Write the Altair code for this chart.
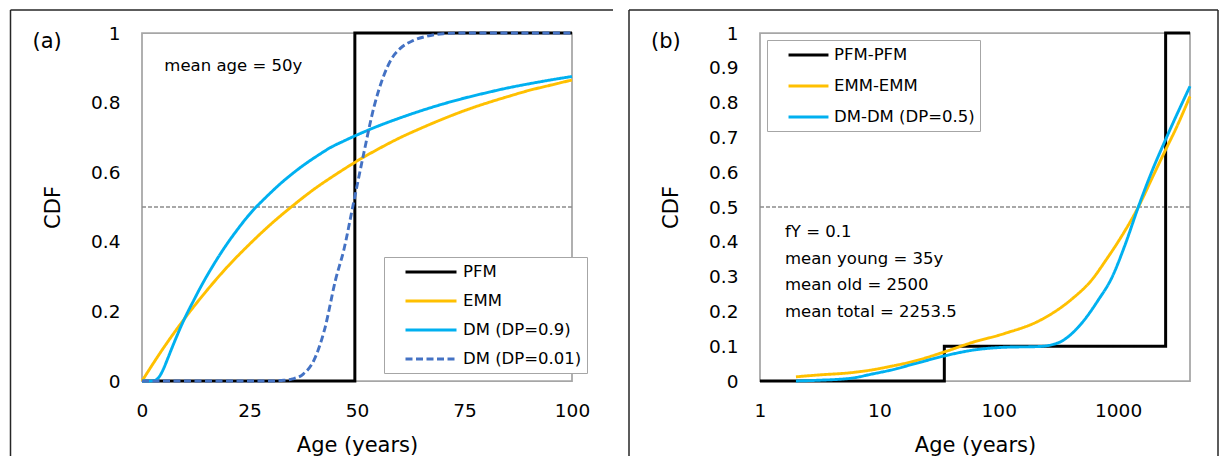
import altair as alt
import pandas as pd

FONT = "DejaVu Sans"

# ---------------- Panel (a) data ----------------
A_SERIES = ["PFM", "EMM", "DM (DP=0.9)", "DM (DP=0.01)"]
A_COLORS = ["#000000", "#FFC000", "#00B0F0", "#4472C4"]
A_DASH = [[1, 0], [1, 0], [1, 0], [7, 3.5]]

PFM_A_AGE = [0, 49.5, 49.5, 100]
PFM_A_CDF = [0, 0, 1, 1]

EMM_A_AGE = [0, 5, 10, 15, 20, 25, 30, 35, 40, 45, 50, 55, 60, 65, 70, 75, 80, 85, 90, 95, 100]
EMM_A_CDF = [0, 0.095, 0.181, 0.259, 0.33, 0.393, 0.451, 0.503, 0.551, 0.593, 0.632, 0.667,
             0.699, 0.727, 0.753, 0.777, 0.798, 0.817, 0.835, 0.85, 0.865]

DM09_A_AGE = [0, 2, 3, 4, 5, 6, 7, 8, 9, 10, 11, 12, 13, 14, 15, 16, 18, 20, 22, 24, 26,
              28, 30, 32, 35, 38, 41, 44, 47, 50, 55, 60, 65, 70, 75, 80, 85, 90, 95, 100]
DM09_A_CDF = [0, 0, 0.002, 0.012, 0.035, 0.065, 0.096, 0.126, 0.155, 0.182, 0.207, 0.231,
              0.255, 0.278, 0.3, 0.321, 0.361, 0.398, 0.432, 0.464, 0.493, 0.518, 0.542,
              0.565, 0.596, 0.624, 0.649, 0.672, 0.69, 0.707, 0.733, 0.756, 0.777, 0.796,
              0.813, 0.828, 0.842, 0.854, 0.865, 0.875]

DM001_A_AGE = [0, 30, 33, 35, 37.5, 40, 42.5, 45, 47, 49, 51.5, 54, 56, 58, 60, 63, 66,
               70, 75, 100]
DM001_A_CDF = [0, 0, 0.002, 0.006, 0.02, 0.06, 0.15, 0.29, 0.38, 0.5, 0.65, 0.79, 0.87,
               0.925, 0.955, 0.978, 0.99, 0.998, 1, 1]

A_NOTE_X = [5.2]
A_NOTE_Y = [0.905]
A_NOTE_T = ["mean age = 50y"]
A_YTICKS = [0, 0.2, 0.4, 0.6, 0.8, 1]
A_XTICKS = [0, 25, 50, 75, 100]

# ---------------- Panel (b) data ----------------
B_SERIES = ["PFM-PFM", "EMM-EMM", "DM-DM (DP=0.5)"]
B_COLORS = ["#000000", "#FFC000", "#00B0F0"]
B_DASH = [[1, 0], [1, 0], [1, 0]]

PFM_B_AGE = [1, 35, 35, 2500, 2500, 4000]
PFM_B_CDF = [0, 0, 0.1, 0.1, 1, 1]

EMM_B_AGE = [2, 3, 5.8, 8.7, 12, 20, 36, 59, 113, 215, 408, 600, 800, 1000, 1476, 2000,
             2545, 3000, 4000]
EMM_B_CDF = [0.012, 0.017, 0.024, 0.032, 0.041, 0.058, 0.085, 0.11, 0.137, 0.172, 0.235,
             0.29, 0.35, 0.40, 0.50, 0.595, 0.67, 0.72, 0.818]

DM_B_AGE = [2, 3, 5.8, 8.7, 12, 20, 36, 59, 113, 215, 316, 464, 683, 883, 1140, 1476,
            1906, 2545, 4000]
DM_B_CDF = [0.0, 0.002, 0.008, 0.02, 0.03, 0.05, 0.073, 0.088, 0.097, 0.099, 0.11, 0.155,
            0.233, 0.296, 0.39, 0.5, 0.60, 0.70, 0.847]

B_NOTE_X = [1.62, 1.62, 1.62, 1.62]
B_NOTE_Y = [0.428, 0.351, 0.276, 0.198]
B_NOTE_T = ["fY = 0.1", "mean young = 35y", "mean old = 2500", "mean total = 2253.5"]
B_YTICKS = [0, 0.1, 0.2, 0.3, 0.4, 0.5, 0.6, 0.7, 0.8, 0.9, 1]
B_XTICKS = [1, 10, 100, 1000]

HALF = [0.5]

W, H = 430, 348


def frame(series_list):
    rows = []
    for name, ages, cdfs in series_list:
        for i, (a, c) in enumerate(zip(ages, cdfs)):
            rows.append({"series": name, "age": a, "cdf": c, "rank": i})
    return pd.DataFrame(rows)


def one():
    return alt.Data(values=[{}])


def legend(lx, ly, path, offset, loff, rowpad):
    return alt.Legend(
        title=None, orient="none", legendX=lx, legendY=ly,
        fillColor="white", strokeColor="#a6a6a6", padding=5,
        symbolType=path, symbolSize=289, symbolStrokeWidth=3,
        symbolOffset=offset, labelOffset=loff, labelFont=FONT, labelFontSize=16.5,
        labelColor="#000000", rowPadding=rowpad, labelLimit=300,
    )


def panel(df, series, colors, dashes, xscale, xticks, xfmt, yticks, lg, notes, label,
          fl, ft, fr, fb):
    color = alt.Color("series:N", scale=alt.Scale(domain=series, range=colors), legend=lg)
    dash = alt.StrokeDash("series:N", scale=alt.Scale(domain=series, range=dashes), legend=lg)
    x = alt.X("age:Q", scale=xscale,
              axis=alt.Axis(values=xticks, format=xfmt, title="Age (years)", labelFlush=False))
    y = alt.Y("cdf:Q", scale=alt.Scale(domain=[0, 1], nice=False),
              axis=alt.Axis(values=yticks, format="~g", title="CDF", labelOverlap=False,
                            labelFlush=False))
    half = alt.Chart(pd.DataFrame({"cdf": HALF})).mark_rule(
        color="#8c8c8c", strokeWidth=1.5, strokeDash=[4, 2]).encode(y=y)
    layers = [half]
    for s in series:
        interp = "linear" if s.startswith("PFM") else "monotone"
        width = 3 if s.startswith("PFM") else 2.9
        layers.append(
            alt.Chart(df[df.series == s]).mark_line(interpolate=interp, strokeWidth=width)
            .encode(x=x, y=y, color=color, strokeDash=dash, order="rank:Q")
        )
    nx, ny, nt = notes
    ndf = pd.DataFrame({"age": nx, "cdf": ny, "t": nt})
    layers.append(
        alt.Chart(ndf).mark_text(align="left", baseline="middle", font=FONT,
                                 fontSize=16.5, color="#000000")
        .encode(x=x, y=y, text="t:N")
    )
    layers.append(
        alt.Chart(one()).mark_text(text=label, align="left", baseline="middle",
                                   font=FONT, fontSize=21, color="#000000")
        .encode(x=alt.value(fl + 22), y=alt.value(9))
    )
    fc = "#262626"
    layers.append(alt.Chart(one()).mark_rule(color=fc, strokeWidth=1.5)
                  .encode(x=alt.value(fl), y=alt.value(ft), y2=alt.value(fb)))
    layers.append(alt.Chart(one()).mark_rule(color=fc, strokeWidth=1.5)
                  .encode(x=alt.value(fl), x2=alt.value(fr), y=alt.value(ft)))
    if fr < 465:
        layers.append(alt.Chart(one()).mark_rule(color=fc, strokeWidth=1.5)
                      .encode(x=alt.value(fr), y=alt.value(ft), y2=alt.value(fb)))
    return alt.layer(*layers).properties(width=W, height=H)


df_a = frame([("PFM", PFM_A_AGE, PFM_A_CDF), ("EMM", EMM_A_AGE, EMM_A_CDF),
              ("DM (DP=0.9)", DM09_A_AGE, DM09_A_CDF),
              ("DM (DP=0.01)", DM001_A_AGE, DM001_A_CDF)])
df_b = frame([("PFM-PFM", PFM_B_AGE, PFM_B_CDF), ("EMM-EMM", EMM_B_AGE, EMM_B_CDF),
              ("DM-DM (DP=0.5)", DM_B_AGE, DM_B_CDF)])

panel_a = panel(
    df_a, A_SERIES, A_COLORS, A_DASH,
    alt.Scale(domain=[0, 100], nice=False), A_XTICKS, "d", A_YTICKS,
    legend(242, 224, "M-3,0H3", 32, 22, 10), (A_NOTE_X, A_NOTE_Y, A_NOTE_T), "(a)",
    -131.5, -23, 471, 423,
)

panel_b = panel(
    df_b, B_SERIES, B_COLORS, B_DASH,
    alt.Scale(type="log", domain=[1, 4000], nice=False), B_XTICKS, "d", B_YTICKS,
    legend(7, 7, "M-2.35,0H2.35", 26.5, 15.5, 12), (B_NOTE_X, B_NOTE_Y, B_NOTE_T), "(b)",
    -131, -23, 458, 423,
)

chart = (
    alt.hconcat(panel_a, panel_b, spacing=188, bounds="flush")
    .resolve_scale(color="independent", strokeDash="independent")
    .resolve_legend(color="independent", strokeDash="independent")
    .properties(padding={"left": 0, "top": 0, "right": 0, "bottom": 0}, background="white")
    .configure_view(stroke="#a6a6a6", strokeWidth=1.75)
    .configure_axis(
        grid=False, ticks=False, domain=False,
        labelFont=FONT, labelFontSize=18.5, labelColor="#000000",
        titleFont=FONT, titleFontSize=21, titleFontWeight="normal", titleColor="#000000",
    )
    .configure_axisLeft(labelPadding=22, titlePadding=27)
    .configure_axisBottom(labelPadding=20, titlePadding=15)
)

chart.save("out.html", embed_options={"renderer": "svg", "actions": False})
